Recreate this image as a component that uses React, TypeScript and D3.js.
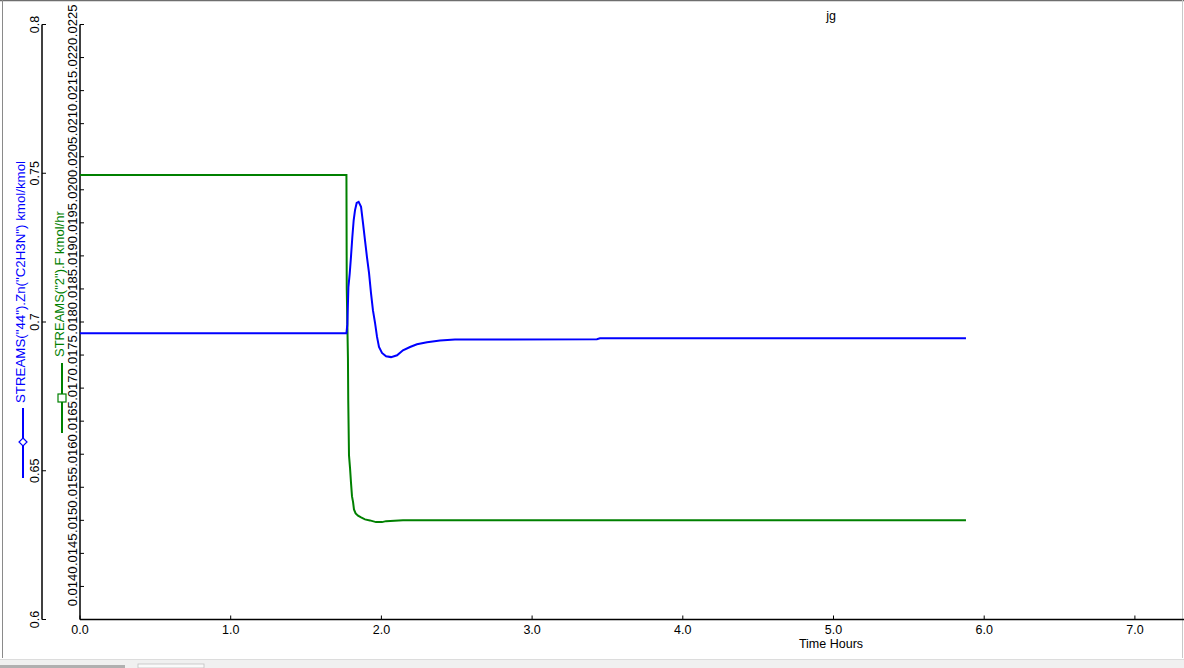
import React from "react";
import * as d3 from "d3";

// ---------- data ----------
const blueTimes = [0, 1.768, 1.774, 1.781, 1.79, 1.798, 1.807, 1.816, 1.825, 1.836, 1.849, 1.865, 1.878, 1.891, 1.904, 1.918, 1.931, 1.944, 1.958, 1.971, 1.984, 2.004, 2.031, 2.064, 2.104, 2.143, 2.19, 2.236, 2.303, 2.389, 2.488, 3.43, 3.45, 5.879];
const blueValues = [0.6962, 0.6962, 0.6992, 0.7117, 0.7164, 0.7218, 0.7285, 0.7342, 0.7376, 0.74, 0.7404, 0.7387, 0.7332, 0.7275, 0.7219, 0.7164, 0.7097, 0.7039, 0.6996, 0.695, 0.6916, 0.6896, 0.6885, 0.6882, 0.6888, 0.6905, 0.6916, 0.6925, 0.6932, 0.6938, 0.6941, 0.6942, 0.6945, 0.6945];

const greenTimes = [0, 1.768, 1.77, 1.778, 1.78, 1.785, 1.792, 1.798, 1.805, 1.812, 1.818, 1.829, 1.845, 1.865, 1.891, 1.924, 1.964, 2.004, 2.031, 2.143, 5.879];
const greenValues = [0.020222, 0.020222, 0.018511, 0.01745, 0.016815, 0.015983, 0.015786, 0.015578, 0.015362, 0.015276, 0.015165, 0.015105, 0.01507, 0.015044, 0.015014, 0.014999, 0.014973, 0.014973, 0.014988, 0.015003, 0.015003];

const xTicks = [0, 1, 2, 3, 4, 5, 6, 7];
const leftTicks = [0.6, 0.65, 0.7, 0.75, 0.8];
const rightTicks = d3.range(0, 19).map((i) => +(0.0135 + i * 0.0005).toFixed(4));
const rightLabelTicks = rightTicks.filter((v) => v >= 0.014);

const titleText = "jg";
const xAxisTitle = "Time Hours";
const blueLegend = 'STREAMS("44").Zn("C2H3N") kmol/kmol';
const greenLegend = 'STREAMS("2").F kmol/hr';

// ---------- layout ----------
const W = 1184;
const H = 668;
const plotLeft = 80;
const plotBottom = 619.5;
const plotTop = 24.5;
const leftAxisX = 42;
const FONT = '"Liberation Sans", Arial, sans-serif';
const BLUE = "#0000ff";
const GREEN = "#008000";

export default function App() {
  const x = d3.scaleLinear().domain([0, 7]).range([plotLeft, plotLeft + 7 * 150.7]);
  const yL = d3.scaleLinear().domain([0.6, 0.8]).range([plotBottom, plotTop]);
  const yR = d3.scaleLinear().domain([0.0135, 0.0225]).range([plotBottom, plotTop]);

  const blueLine = d3
    .line<number>()
    .x((_, i) => x(blueTimes[i]))
    .y((d) => yL(d))(blueValues) as string;
  const greenLine = d3
    .line<number>()
    .x((_, i) => x(greenTimes[i]))
    .y((d) => yR(d))(greenValues) as string;

  // draw the highest label first so that each lower label sits on top
  const labelOrder = [...rightLabelTicks].reverse();

  return (
    <svg
      width={W}
      height={H}
      style={{ position: "absolute", left: 0, top: 0, background: "#fff" }}
      fontFamily={FONT}
    >
      <rect x={0} y={0} width={W} height={H} fill="#fff" />
      {/* window frame */}
      <line x1={0} y1={0.5} x2={W} y2={0.5} stroke="#6e6e6e" strokeWidth={1.5} />
      <line x1={2.5} y1={0} x2={2.5} y2={658} stroke="#8a8a8a" strokeWidth={1} />
      <line x1={1182.5} y1={0} x2={1182.5} y2={658} stroke="#c8c8c8" strokeWidth={1} />
      <rect x={0} y={659} width={W} height={9} fill="#f0f0f0" />
      <line x1={0} y1={659.5} x2={W} y2={659.5} stroke="#dcdcdc" />
      <rect x={0} y={665} width={125} height={3} fill="#b0b0b0" />
      <rect x={138} y={664} width={66} height={4} fill="#fafafa" stroke="#c0c0c0" strokeWidth={0.8} />

      {/* title */}
      <text x={831} y={20} fontSize={12.5} textAnchor="middle" fill="#000">
        {titleText}
      </text>

      {/* x axis */}
      <line x1={plotLeft} y1={plotBottom} x2={W} y2={plotBottom} stroke="#000" strokeWidth={1.5} />
      {xTicks.map((t) => (
        <g key={"xt" + t}>
          <line x1={x(t)} y1={plotBottom} x2={x(t)} y2={plotBottom - 4} stroke="#000" />
          <text x={x(t)} y={634} fontSize={12.5} textAnchor="middle" fill="#000">
            {t.toFixed(1)}
          </text>
        </g>
      ))}
      <text x={831} y={648} fontSize={12.5} textAnchor="middle" fill="#000">
        {xAxisTitle}
      </text>

      {/* left axis */}
      <line x1={leftAxisX} y1={plotTop} x2={leftAxisX} y2={plotBottom} stroke="#000" strokeWidth={1.5} />
      {leftTicks.map((v) => (
        <g key={"lt" + v}>
          <line x1={leftAxisX} y1={yL(v)} x2={leftAxisX + 4} y2={yL(v)} stroke="#000" />
          <text
            transform={`translate(${35},${yL(v)}) rotate(-90)`}
            fontSize={12.5}
            textAnchor="middle"
            dominantBaseline="central"
            fill="#000"
          >
            {String(v)}
          </text>
        </g>
      ))}

      {/* right (green) axis */}
      <line x1={plotLeft} y1={plotTop} x2={plotLeft} y2={plotBottom} stroke="#000" strokeWidth={1.5} />
      {rightTicks.map((v) => (
        <line key={"rt" + v} x1={plotLeft} y1={yR(v)} x2={plotLeft + 4} y2={yR(v)} stroke="#000" />
      ))}
      {labelOrder.map((v) => (
        <g key={"rl" + v} transform={`translate(${72},${yR(v)}) rotate(-90)`}>
          <rect x={-20} y={-6.5} width={40} height={13} fill="#fff" />
          <text fontSize={13} textAnchor="middle" dominantBaseline="central" fill="#000">
            {v.toFixed(4)}
          </text>
        </g>
      ))}

      {/* legend - blue */}
      <line x1={23} y1={408} x2={23} y2={478} stroke={BLUE} strokeWidth={2} />
      <path d={`M23,438 L27,442 L23,446 L19,442 Z`} fill="#fff" stroke={BLUE} strokeWidth={1.2} />
      <text
        transform={`translate(${20},${403}) rotate(-90)`}
        fontSize={13.3}
        dominantBaseline="central"
        fill={BLUE}
      >
        {blueLegend}
      </text>

      {/* legend - green */}
      <line x1={62} y1={363} x2={62} y2={433} stroke={GREEN} strokeWidth={2} />
      <rect x={58} y={394} width={8} height={8} fill="#fff" stroke={GREEN} strokeWidth={1.2} />
      <text
        transform={`translate(${59},${357}) rotate(-90)`}
        fontSize={13}
        dominantBaseline="central"
        fill={GREEN}
      >
        {greenLegend}
      </text>

      {/* series */}
      <path d={greenLine} fill="none" stroke={GREEN} strokeWidth={2} />
      <path d={blueLine} fill="none" stroke={BLUE} strokeWidth={2} />
    </svg>
  );
}
